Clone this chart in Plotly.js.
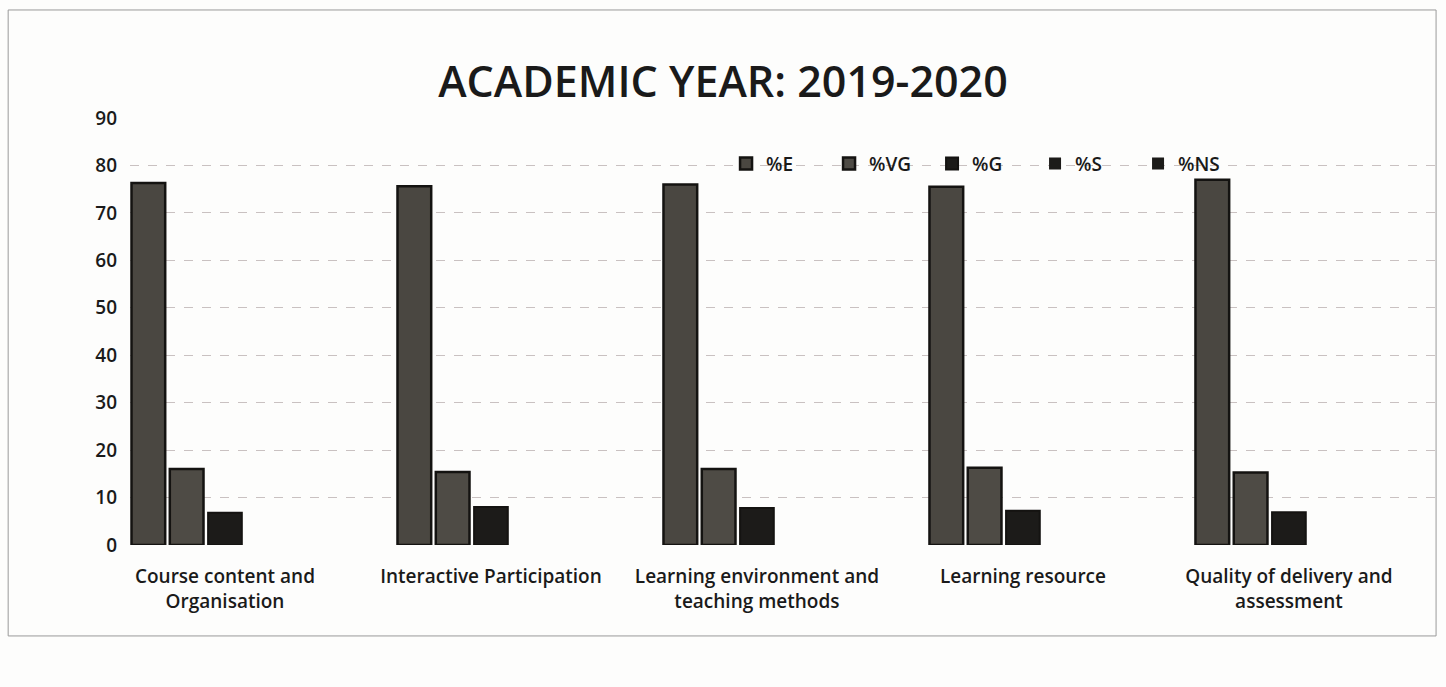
<!DOCTYPE html>
<html>
<head>
<meta charset="utf-8">
<script src="https://cdn.plot.ly/plotly-3.0.1.min.js"></script>
<style>html,body{margin:0;padding:0;background:#fdfdfc;}#chart{width:1446px;height:687px;}</style>
</head>
<body>
<div id="chart"></div>
<script>
const categories = [
  "Course content and<br>Organisation",
  "Interactive Participation",
  "Learning environment and<br>teaching methods",
  "Learning resource",
  "Quality of delivery and<br>assessment"
];
const seriesNames = ["%E", "%VG", "%G", "%S", "%NS"];
const pctE  = [76.3, 75.6, 76.0, 75.5, 77.0];
const pctVG = [16.0, 15.4, 16.0, 16.3, 15.3];
const pctG  = [6.8, 8.0, 7.8, 7.2, 6.9];
const pctS  = [0, 0, 0, 0, 0];
const pctNS = [0, 0, 0, 0, 0];
const yTicks = [0, 10, 20, 30, 40, 50, 60, 70, 80, 90];

const seriesValues = [pctE, pctVG, pctG, pctS, pctNS];
const fills = ["#4a4741", "#4e4b45", "#1c1b19", "#1c1b19", "#1c1b19"];
const outlines = [2.5, 2.5, 2, 0, 0];

const traces = seriesNames.map((name, i) => ({
  type: "bar",
  name: name,
  x: categories,
  y: seriesValues[i],
  marker: {color: fills[i], line: {color: "#141311", width: outlines[i]}},
  hoverinfo: "x+y+name"
}));

const font = "Open Sans, Lato, DejaVu Sans, sans-serif";

const layout = {
  width: 1446,
  height: 687,
  paper_bgcolor: "#fdfdfc",
  plot_bgcolor: "rgba(0,0,0,0)",
  margin: {l: 130, r: 6, t: 118, b: 142},
  barmode: "group",
  bargap: 0.28,
  bargroupgap: 0.12,
  title: {
    text: "ACADEMIC YEAR: 2019-2020",
    font: {family: font, size: 43, color: "#1a1a1a", weight: 600},
    x: 0.5, xref: "container", xanchor: "center",
    y: 0.88, yref: "container", yanchor: "middle"
  },
  xaxis: {
    type: "category",
    range: [-0.357, 4.568],
    showgrid: false,
    zeroline: false,
    showline: false,
    ticks: "",
    tickangle: 0,
    ticklabelstandoff: 18,
    tickfont: {family: font, size: 19, color: "#1a1a1a", weight: 600},
    automargin: false
  },
  yaxis: {
    range: [0, 90],
    tickvals: yTicks,
    ticktext: yTicks.map(String),
    showgrid: true,
    gridcolor: "#c9c1c1",
    griddash: "dash",
    gridwidth: 1,
    zeroline: false,
    showline: false,
    ticks: "",
    ticklabelstandoff: 12,
    tickfont: {family: font, size: 19, color: "#1a1a1a", weight: 600},
    automargin: false
  },
  legend: {
    orientation: "h",
    x: 0.455, xanchor: "left",
    y: 0.893, yanchor: "middle",
    bgcolor: "rgba(0,0,0,0)",
    font: {family: font, size: 19, color: "#1a1a1a", weight: 600},
    entrywidth: 58,
    itemwidth: 30,
    traceorder: "normal"
  },
  shapes: [{
    type: "rect", xref: "paper", yref: "paper",
    x0: -0.093, x1: 0.997, y0: -0.213, y1: 1.253,
    line: {color: "#9a9a9a", width: 1}
  }],
  showlegend: true
};

Plotly.newPlot("chart", traces, layout, {displayModeBar: false, staticPlot: true});
</script>
</body>
</html>
